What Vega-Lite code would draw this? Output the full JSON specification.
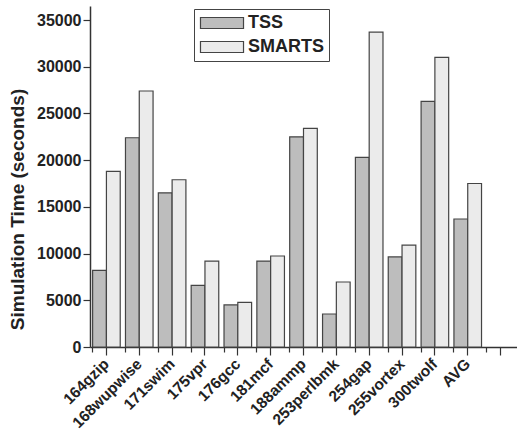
{
  "$schema": "https://vega.github.io/schema/vega-lite/v6.json",
  "autosize": "none",
  "padding": {"left": 90, "top": 6, "right": 0, "bottom": 85},
  "width": 427,
  "height": 341,
  "background": "white",
  "view": {"stroke": null},
  "config": {
    "font": "Liberation Sans",
    "axis": {"grid": false, "domainColor": "#333", "domainWidth": 1.5, "tickColor": "#333", "tickWidth": 1.2, "labelColor": "#222", "labelFontWeight": "bold", "titleColor": "#222"}
  },
  "data": {
    "values": [
      {"bench": "164gzip", "series": "TSS", "time": 8200},
      {"bench": "164gzip", "series": "SMARTS", "time": 18800},
      {"bench": "168wupwise", "series": "TSS", "time": 22400},
      {"bench": "168wupwise", "series": "SMARTS", "time": 27400},
      {"bench": "171swim", "series": "TSS", "time": 16500},
      {"bench": "171swim", "series": "SMARTS", "time": 17900},
      {"bench": "175vpr", "series": "TSS", "time": 6600},
      {"bench": "175vpr", "series": "SMARTS", "time": 9200},
      {"bench": "176gcc", "series": "TSS", "time": 4500},
      {"bench": "176gcc", "series": "SMARTS", "time": 4780},
      {"bench": "181mcf", "series": "TSS", "time": 9200},
      {"bench": "181mcf", "series": "SMARTS", "time": 9740},
      {"bench": "188ammp", "series": "TSS", "time": 22500},
      {"bench": "188ammp", "series": "SMARTS", "time": 23400},
      {"bench": "253perlbmk", "series": "TSS", "time": 3530},
      {"bench": "253perlbmk", "series": "SMARTS", "time": 6960},
      {"bench": "254gap", "series": "TSS", "time": 20300},
      {"bench": "254gap", "series": "SMARTS", "time": 33700},
      {"bench": "255vortex", "series": "TSS", "time": 9640},
      {"bench": "255vortex", "series": "SMARTS", "time": 10900},
      {"bench": "300twolf", "series": "TSS", "time": 26300},
      {"bench": "300twolf", "series": "SMARTS", "time": 31000},
      {"bench": "AVG", "series": "TSS", "time": 13700},
      {"bench": "AVG", "series": "SMARTS", "time": 17500}
    ]
  },
  "resolve": {"axis": {"x": "independent"}},
  "layer": [
    {
      "mark": {"type": "bar", "stroke": "#444", "strokeWidth": 1.2},
      "encoding": {
        "x": {
          "field": "bench", "type": "nominal",
          "scale": {"domain": ["164gzip", "168wupwise", "171swim", "175vpr", "176gcc", "181mcf", "188ammp", "253perlbmk", "254gap", "255vortex", "300twolf", "AVG", " "], "paddingInner": 0.16, "paddingOuter": 0.08},
          "axis": {"title": null, "orient": "bottom", "labelAngle": -45, "labelAlign": "right", "labelBaseline": "middle", "labelFontSize": 15.5, "tickSize": 8, "labelPadding": 6}
        },
        "xOffset": {"field": "series", "type": "nominal", "sort": ["TSS", "SMARTS"], "scale": {"paddingInner": 0, "paddingOuter": 0}},
        "y": {
          "field": "time", "type": "quantitative",
          "scale": {"domain": [0, 36500], "nice": false},
          "axis": {
            "title": "Simulation Time (seconds)",
            "titleFontSize": 19, "titleFontWeight": "bold",
            "titleX": -73, "titleY": 203, "titleAngle": -90, "titleAlign": "center", "titleBaseline": "middle",
            "values": [0, 2500, 5000, 7500, 10000, 12500, 15000, 17500, 20000, 22500, 25000, 27500, 30000, 32500, 35000],
            "format": "d",
            "labelExpr": "datum.value % 5000 === 0 ? datum.label : ''",
            "labelFontSize": 16,
            "tickSize": {"condition": {"test": "datum.value % 5000 === 0", "value": 7}, "value": 4},
            "labelPadding": 2
          }
        },
        "fill": {
          "field": "series", "type": "nominal",
          "sort": ["TSS", "SMARTS"],
          "scale": {"domain": ["TSS", "SMARTS"], "range": ["#bdbdbd", "#ebebeb"]},
          "legend": {
            "title": null, "orient": "none", "legendX": 104, "legendY": 3,
            "strokeColor": "#444", "padding": 5, "fillColor": "white",
            "symbolType": "M-3.31,-0.846H3.31V0.846H-3.31Z", "symbolSize": 169,
            "symbolOffset": 14,
            "symbolStrokeColor": "#444", "symbolStrokeWidth": 1.2,
            "labelFontSize": 18, "labelFontWeight": "bold", "labelColor": "#222",
            "labelOffset": 17, "rowPadding": 6
          }
        }
      }
    },
    {
      "mark": {"type": "bar", "opacity": 0},
      "encoding": {
        "x": {
          "field": "bench", "type": "nominal",
          "axis": {"title": null, "orient": "bottom", "bandPosition": 0, "labels": false, "domain": false, "tickSize": 5, "tickColor": "#333", "tickWidth": 1.2}
        },
        "y": {"field": "time", "type": "quantitative", "title": "Simulation Time (seconds)"}
      }
    }
  ]
}
